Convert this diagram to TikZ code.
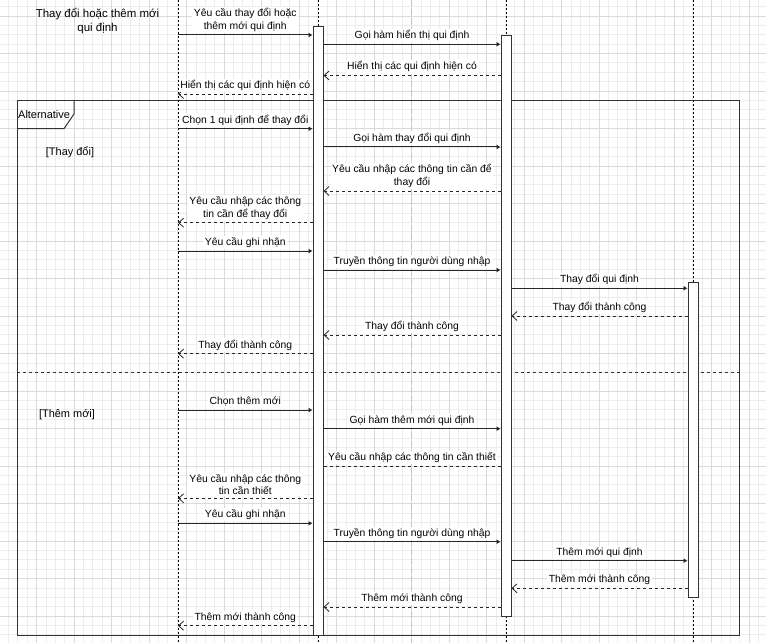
\documentclass[tikz,border=0pt]{standalone}
\usepackage{fontspec}
\setmainfont{Liberation Sans}
\usepackage{xcolor}
\usetikzlibrary{arrows.meta}
\definecolor{gridminor}{HTML}{EDEDED}
\definecolor{gridmajor}{HTML}{DADADA}
\definecolor{pagebreak}{HTML}{C4C4C4}
\definecolor{edge}{HTML}{333333}

\begin{document}
\begin{tikzpicture}[
  x=1bp, y=-1bp,
  font=\fontsize{11}{13}\selectfont,
  bar/.style={rectangle, draw=edge, fill=white, line width=1bp, minimum width=10bp, inner sep=0pt, anchor=north},
  life/.style={draw=black, line width=0.8bp, dash pattern=on 2bp off 2bp},
  call/.style={draw=black!85, line width=1bp, -{Latex[length=4bp,width=5bp]}},
  ret/.style={draw=black!85, line width=0.8bp, dash pattern=on 3bp off 3bp, -{Straight Barb[length=5bp,width=9bp]}},
  lbl/.style={above=1.5bp, inner sep=1.5bp, fill=white, align=center, font=\fontsize{10.4}{12.5}\selectfont}
]
\useasboundingbox (0,0) rectangle (766,643);

% Background grid
\begin{scope}
\clip (0,0) rectangle (766,643);
\foreach \i in {0,...,82} \draw[gridminor, line width=0.75bp] ({-1+\i*9.375},0) -- ({-1+\i*9.375},643);
\foreach \j in {0,...,72} \draw[gridminor, line width=0.75bp] (0,{-21.5+\j*9.375}) -- (766,{-21.5+\j*9.375});
\foreach \i in {0,...,21} \draw[gridmajor, line width=0.75bp] ({-1+\i*37.5},0) -- ({-1+\i*37.5},643);
\foreach \j in {0,...,18} \draw[gridmajor, line width=0.75bp] (0,{-21.5+\j*37.5}) -- (766,{-21.5+\j*37.5});
\draw[pagebreak, line width=1bp, dash pattern=on 6bp off 3bp] (411,0) -- (411,643);
\end{scope}

% Title
\node[align=center, font=\fontsize{11.5}{14}\selectfont] (title) at (97.5,21) {Thay đổi hoặc thêm mới\\qui định};

% Alternative frame
\node[draw=edge, line width=1.2bp, minimum width=722bp, minimum height=535bp, anchor=north west, inner sep=0pt] (alt) at (17,100) {};
\draw[edge, line width=1bp] (17,128.7) -- (64,128.7) -- (74,114) -- (74,100);
\node[anchor=west, inner sep=0pt] (altname) at (18,115) {Alternative};
\node (guard1) at (70,152) {[Thay đổi]};
\node (guard2) at (67,415) {[Thêm mới]};
\draw[edge, line width=1bp, dash pattern=on 3bp off 3bp] (alt.west |- 0,372) -- (alt.east |- 0,372);

% Lifelines
\coordinate (user) at (178,0);
\draw[life] (user) -- (178,643);
\draw[life] (318,0) -- (318,643);
\draw[life] (506,0) -- (506,643);
\draw[life] (693,0) -- (693,643);

% Activation bars
\node[bar, minimum height=609bp] (form) at (318,26) {};
\node[bar, minimum height=581bp] (ctrl) at (506,35) {};
\node[bar, minimum height=315bp] (db) at (693,282) {};

% Show rules
\draw[call] (user |- 0,35) -- node[lbl] {Yêu cầu thay đổi hoặc\\thêm mới qui định} (form.west |- 0,35);
\draw[call] (form.east |- 0,44.3) -- node[lbl] {Gọi hàm hiển thị qui định} (ctrl.west |- 0,44.3);
\draw[ret] (ctrl.west |- 0,75.5) -- node[lbl] {Hiển thị các qui định hiện có} (form.east |- 0,75.5);
\draw[ret] (form.west |- 0,94) -- node[lbl] {Hiển thị các qui định hiện có} (user |- 0,94);

% Thay doi
\draw[call] (user |- 0,128.7) -- node[lbl] {Chọn 1 qui định để thay đổi} (form.west |- 0,128.7);
\draw[call] (form.east |- 0,147) -- node[lbl] {Gọi hàm thay đổi qui định} (ctrl.west |- 0,147);
\draw[ret] (ctrl.west |- 0,191) -- node[lbl] {Yêu cầu nhập các thông tin cần để\\thay đổi} (form.east |- 0,191);
\draw[ret] (form.west |- 0,222.7) -- node[lbl] {Yêu cầu nhập các thông\\tin cần để thay đổi} (user |- 0,222.7);
\draw[call] (user |- 0,251) -- node[lbl] {Yêu cầu ghi nhận} (form.west |- 0,251);
\draw[call] (form.east |- 0,270) -- node[lbl] {Truyền thông tin người dùng nhập} (ctrl.west |- 0,270);
\draw[call] (ctrl.east |- 0,288.3) -- node[lbl] {Thay đổi qui định} (db.west |- 0,288.3);
\draw[ret] (db.west |- 0,316) -- node[lbl] {Thay đổi thành công} (ctrl.east |- 0,316);
\draw[ret] (ctrl.west |- 0,335) -- node[lbl] {Thay đổi thành công} (form.east |- 0,335);
\draw[ret] (form.west |- 0,353.7) -- node[lbl] {Thay đổi thành công} (user |- 0,353.7);

% Them moi
\draw[call] (user |- 0,410) -- node[lbl] {Chọn thêm mới} (form.west |- 0,410);
\draw[call] (form.east |- 0,428.7) -- node[lbl] {Gọi hàm thêm mới qui định} (ctrl.west |- 0,428.7);
\draw[ret, -] (ctrl.west |- 0,466) -- node[lbl] {Yêu cầu nhập các thông tin cần thiết} (form.east |- 0,466);
\draw[ret] (form.west |- 0,498.3) -- node[lbl] {Yêu cầu nhập các thông\\tin cần thiết} (user |- 0,498.3);
\draw[call] (user |- 0,523.3) -- node[lbl] {Yêu cầu ghi nhận} (form.west |- 0,523.3);
\draw[call] (form.east |- 0,541.7) -- node[lbl] {Truyền thông tin người dùng nhập} (ctrl.west |- 0,541.7);
\draw[call] (ctrl.east |- 0,560.7) -- node[lbl] {Thêm mới qui định} (db.west |- 0,560.7);
\draw[ret] (db.west |- 0,588.3) -- node[lbl] {Thêm mới thành công} (ctrl.east |- 0,588.3);
\draw[ret] (ctrl.west |- 0,607) -- node[lbl] {Thêm mới thành công} (form.east |- 0,607);
\draw[ret] (form.west |- 0,625.7) -- node[lbl] {Thêm mới thành công} (user |- 0,625.7);

\end{tikzpicture}
\end{document}
